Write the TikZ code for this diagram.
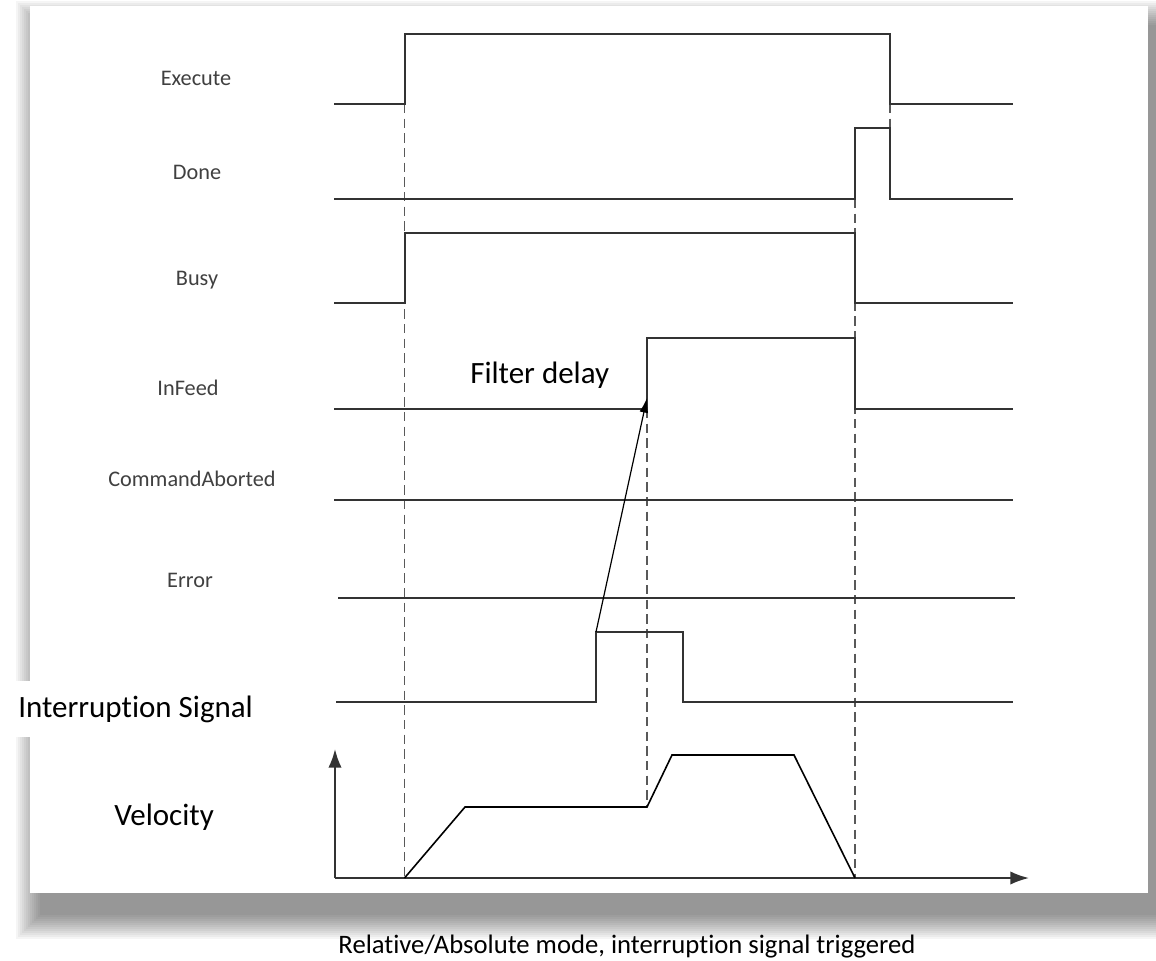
\documentclass[tikz,border=0pt]{standalone}
\usepackage{fontspec}
\setmainfont{Carlito}[Ligatures=NoCommon]
\usetikzlibrary{arrows.meta}

\begin{document}
\begin{tikzpicture}[x=0.75pt, y=-0.75pt,
    sig/.style={line width=1.5pt, black!80},
    guide/.style={line width=1.3pt, black!65, dash pattern=on 7pt off 4pt},
    lbl/.style={anchor=base, text=black!75, inner sep=0pt, font=\fontsize{16.7}{20}\selectfont},
    big/.style={anchor=base west, inner sep=0pt, font=\fontsize{23.25}{28}\selectfont}]
\useasboundingbox (0,0) rectangle (1156,960);

% soft shadow, then the white panel
\foreach \i in {0,...,12}
  \fill [black, opacity=0.038] (40-2*\i,25-2*\i) rectangle (1160+2*\i,915+2*\i);
\fill [white] (30,6) rectangle (1148,893);

% signal names
\node [lbl] (exec) at (196,85) {Execute};
\node [lbl] (done) at (197,179) {Done};
\node [lbl] (busy) at (197,285) {Busy};
\node [lbl] (infeed) at (188,395) {InFeed};
\node [lbl] (cmdab) at (192,486) {CommandAborted};
\node [lbl] (err) at (190,587) {Error};
\node [big, fill=white, inner xsep=13.5pt, inner ysep=11pt] (intsig) at (0,717) {Interruption Signal};
\node [big] (vel) at (114,825) {Velocity};

% dashed time marks
\draw [guide] (404.5,104) -- (404.5,878);
\draw [guide] (855,199) -- (855,878);
\draw [guide] (647,409) -- (647,807);
\draw [guide] (890,104) -- (890,128);

% Execute
\draw [sig] (334,104) -- (404.5,104) -- (404.5,34) -- (890,34) -- (890,104) -- (1013,104);
% Done
\draw [sig] (334,199) -- (855,199) -- (855,128) -- (890,128) -- (890,199) -- (1013,199);
% Busy
\draw [sig] (334,303) -- (404.5,303) -- (404.5,233) -- (855,233) -- (855,303) -- (1013,303);
% InFeed
\draw [sig] (334,409) -- (647,409) -- (647,338) -- (855,338) -- (855,409) -- (1013,409);
% CommandAborted, Error
\draw [sig] (334,500) -- (1013,500);
\draw [sig] (338,598) -- (1015,598);
% Interruption Signal
\draw [sig] (336,702) -- (596,702) -- (596,632) -- (683,632) -- (683,702) -- (1013,702);

% velocity axes and profile
\coordinate (org) at (335,878);
\draw [sig, -{Latex[length=14pt,width=10pt]}] (org) -- (335,749);
\draw [sig, -{Latex[length=14pt,width=10pt]}] (org) -- (1029,878);
\draw [line width=1.2pt] (404.5,878) -- (465,807) -- (647,807) -- (672,755) -- (794,755) -- (855,878);

% filter delay
\coordinate (pulse) at (596,632);
\coordinate (rise) at (647,398);
\draw [line width=0.9pt, -{Latex[length=11pt,width=6.5pt]}] (pulse) -- (rise);
\node [big] (filt) at (470,383) {Filter delay};

\node [anchor=base, font=\fontsize{20}{24}\selectfont] (cap) at (627,953) {Relative/Absolute mode, interruption signal triggered};
\end{tikzpicture}
\end{document}
